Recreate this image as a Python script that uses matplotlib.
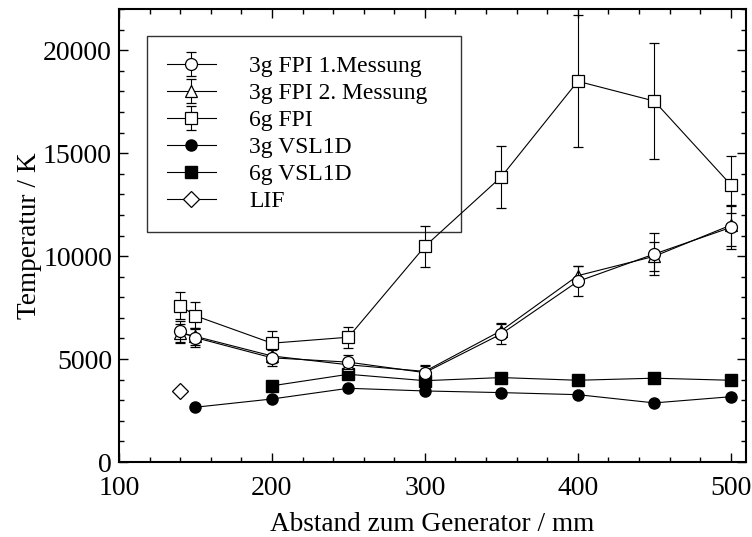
import numpy as np
import matplotlib.pyplot as plt
from matplotlib.ticker import MultipleLocator

plt.rcParams['font.family'] = ['Liberation Serif', 'DejaVu Serif']

# distances (mm)
x_fpi = [140, 150, 200, 250, 300, 350, 400, 450, 500]
x_vsl3 = [150, 200, 250, 300, 350, 400, 450, 500]
x_vsl6 = [200, 250, 300, 350, 400, 450, 500]
x_lif = [140]

# temperatures (K)
fpi3_1 = [6340, 6040, 5060, 4850, 4340, 6220, 8770, 10100, 11390]
fpi3_1_err = [500, 450, 400, 350, 300, 500, 730, 1030, 1050]
fpi3_2 = [6250, 6100, 5150, 4720, 4400, 6380, 9050, 9990, 11500]
fpi3_2_err = [450, 400, 350, 300, 300, 350, 450, 700, 1000]
fpi6 = [7600, 7100, 5770, 6060, 10470, 13850, 18490, 17530, 13470]
fpi6_err = [650, 650, 570, 520, 1000, 1520, 3200, 2800, 1400]
vsl3 = [2660, 3060, 3580, 3450, 3370, 3270, 2870, 3170]
vsl6 = [3700, 4260, 3950, 4100, 3970, 4070, 3970]
lif = [3450]

labels = ['3g FPI 1.Messung', '3g FPI 2. Messung', '6g FPI',
          '3g VSL1D', '6g VSL1D', 'LIF']

fig = plt.figure(figsize=(7.52, 5.37), dpi=100)
ax = fig.add_axes([119/752, 75/537, 627/752, 453/537])

lw = 0.8
eb = dict(color='black', lw=lw, elinewidth=lw, capsize=3.6, capthick=lw,
          markeredgecolor='black', markeredgewidth=0.9, mfc='white')
h1 = ax.errorbar(x_fpi, fpi3_1, yerr=fpi3_1_err, marker='o', ms=8.6, zorder=5, **eb)
h2 = ax.errorbar(x_fpi, fpi3_2, yerr=fpi3_2_err, marker='^', ms=8, zorder=4, **eb)
h3 = ax.errorbar(x_fpi, fpi6, yerr=fpi6_err, marker='s', ms=8.2, zorder=4, **eb)
h4, = ax.plot(x_vsl3, vsl3, color='black', lw=lw, marker='o', ms=8, mfc='black', zorder=4)
h5, = ax.plot(x_vsl6, vsl6, color='black', lw=lw, marker='s', ms=8, mfc='black', zorder=4)
h6, = ax.plot(x_lif, lif, color='black', lw=lw, marker='D', ms=8, mfc='white', mew=0.9, zorder=4)

ax.set_xlim(100, 510)
ax.set_ylim(0, 22000)
ax.xaxis.set_major_locator(MultipleLocator(100))
ax.xaxis.set_minor_locator(MultipleLocator(20))
ax.yaxis.set_major_locator(MultipleLocator(5000))
ax.yaxis.set_minor_locator(MultipleLocator(1000))
ax.tick_params(which='both', direction='in', top=True, right=True, labelsize=20, width=1)
ax.tick_params(which='major', length=6.5)
ax.tick_params(which='minor', length=3.5)
ax.tick_params(axis='x', which='major', pad=10)
ax.tick_params(axis='y', which='major', pad=5)
for s in ax.spines.values():
    s.set_linewidth(1.5)

ax.set_xlabel('Abstand zum Generator / mm', fontsize=19.6, labelpad=8)
ax.set_ylabel('Temperatur / K', fontsize=19.6, labelpad=1)

# legend box is see-through in the original, the 6g FPI line shows in its corner
leg = ax.legend([h1, h2, h3, h4, h5, h6], labels,
                loc='upper left', bbox_to_anchor=(0.0447, 0.5, 0.501, 0.4404),
                mode='expand', borderaxespad=0,
                fontsize=17, frameon=True, fancybox=False,
                handlelength=2.1, handletextpad=1.4, labelspacing=0.23,
                borderpad=0.83)
leg.get_frame().set_edgecolor('black')
leg.get_frame().set_facecolor('none')
leg.get_frame().set_linewidth(1.0)

fig.savefig('out.png', dpi=100)
